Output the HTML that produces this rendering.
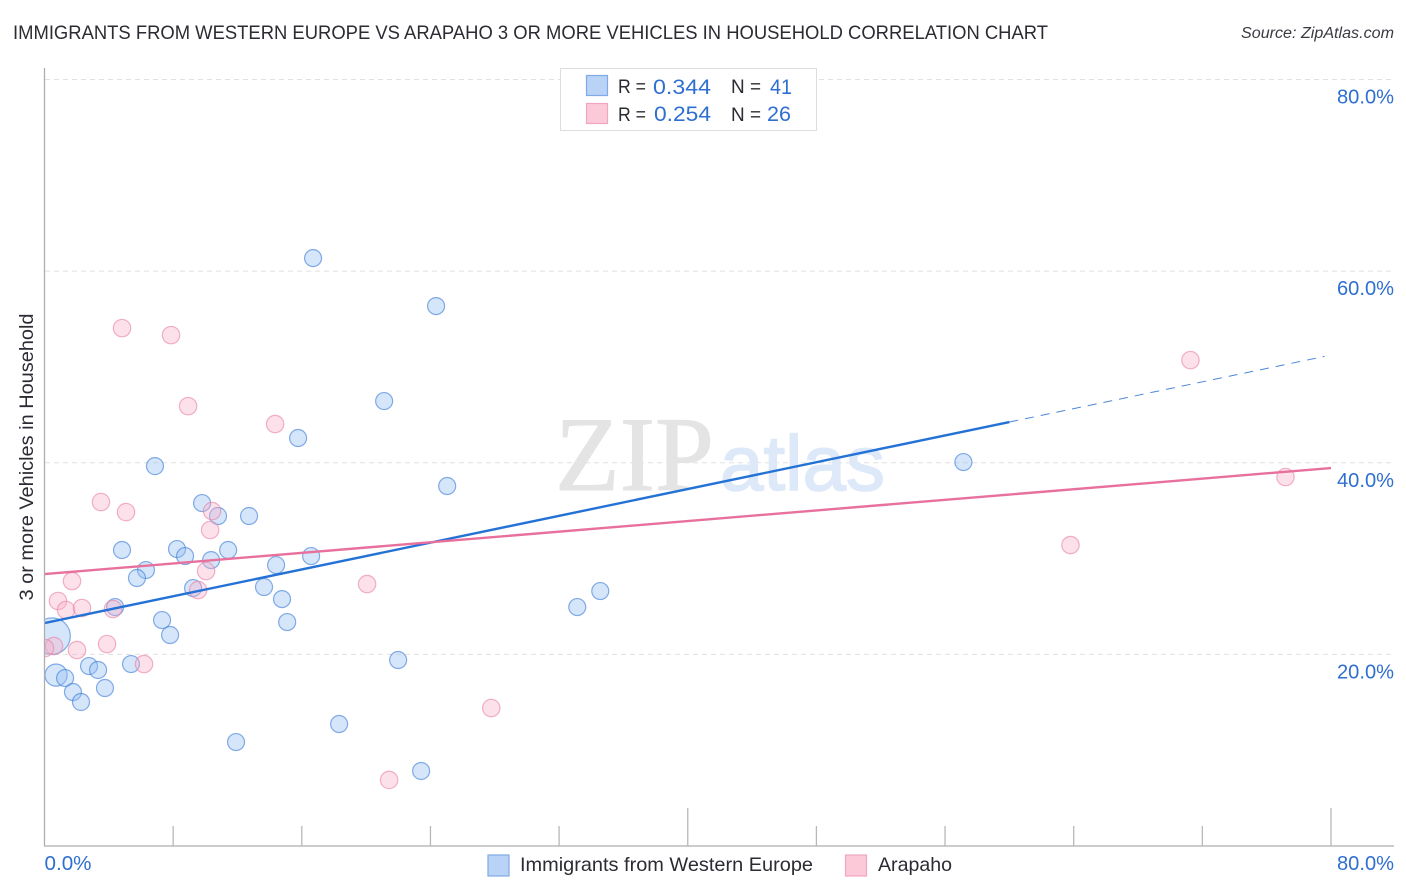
<!DOCTYPE html>
<html lang="en">
<head>
<meta charset="utf-8">
<title>Immigrants from Western Europe vs Arapaho correlation chart</title>
<style>
html,body{margin:0;padding:0;background:#fff;}
#stage{display:block;width:1406px;height:892px;font-family:"Liberation Sans",sans-serif;}
text{font-family:"Liberation Sans",sans-serif;}
</style>
</head>
<body>
<svg id="stage" xmlns="http://www.w3.org/2000/svg" width="1406" height="892" viewBox="0 0 1406 892">
  <defs>
    <clipPath id="plot-clip"><rect x="44.5" y="60" width="1350" height="786"></rect></clipPath>
  </defs>
  <rect width="1406" height="892" fill="#ffffff"></rect>
  <text x="13" y="39" font-size="19.5" fill="#2b2b33" textLength="1035" lengthAdjust="spacingAndGlyphs">IMMIGRANTS FROM WESTERN EUROPE VS ARAPAHO 3 OR MORE VEHICLES IN HOUSEHOLD CORRELATION CHART</text>
  <text x="1241" y="38" font-size="15.5" font-style="italic" fill="#3a3a42" textLength="153" lengthAdjust="spacingAndGlyphs">Source: ZipAtlas.com</text>

  <g id="grid"></g>

  <g>
    <text x="555" y="490" font-size="106" fill="#e4e4e4" stroke="#e4e4e4" stroke-width="1" textLength="159" lengthAdjust="spacingAndGlyphs" style="font-family:'Liberation Serif',serif">ZIP</text>
    <text x="720" y="490" font-size="78" fill="#dde9f9" stroke="#dde9f9" stroke-width="1.5" textLength="165" lengthAdjust="spacingAndGlyphs">atlas</text>
  </g>

  <g id="points" clip-path="url(#plot-clip)"></g>
  <g id="trends" clip-path="url(#plot-clip)"></g>

  <g id="axes">
    <line x1="44.5" y1="68" x2="44.5" y2="846" stroke="#aeaeae" stroke-width="1.3"></line>
    <line x1="44" y1="846" x2="1394" y2="846" stroke="#aeaeae" stroke-width="1.3"></line>
  </g>
  <g id="tick-labels"></g>

  <text transform="translate(33,457) rotate(-90)" text-anchor="middle" font-size="19" fill="#2b2b33" textLength="287" lengthAdjust="spacingAndGlyphs">3 or more Vehicles in Household</text>

  <g>
    <rect x="560.5" y="68.5" width="256" height="62" fill="#ffffff" stroke="#dddddd" stroke-width="1"></rect>
    <rect x="586.5" y="75.5" width="21" height="20" fill="#b9d3f7" stroke="#7faae6" stroke-width="1.2"></rect>
    <rect x="586.5" y="103.5" width="21" height="20" fill="#fcc9d9" stroke="#f0a6bf" stroke-width="1.2"></rect>
    <text x="618" y="93" font-size="19.5" fill="#2b2b33" textLength="28" lengthAdjust="spacingAndGlyphs">R =</text>
    <text x="653" y="94" font-size="21" fill="#2f6fd0" textLength="58" lengthAdjust="spacingAndGlyphs">0.344</text>
    <text x="731" y="93" font-size="19.5" fill="#2b2b33" textLength="30" lengthAdjust="spacingAndGlyphs">N =</text>
    <text x="770" y="94" font-size="21" fill="#2f6fd0" textLength="22" lengthAdjust="spacingAndGlyphs">41</text>
    <text x="618" y="121" font-size="19.5" fill="#2b2b33" textLength="28" lengthAdjust="spacingAndGlyphs">R =</text>
    <text x="654" y="121" font-size="21" fill="#2f6fd0" textLength="57" lengthAdjust="spacingAndGlyphs">0.254</text>
    <text x="731" y="121" font-size="19.5" fill="#2b2b33" textLength="30" lengthAdjust="spacingAndGlyphs">N =</text>
    <text x="767" y="121" font-size="21" fill="#2f6fd0" textLength="24" lengthAdjust="spacingAndGlyphs">26</text>
  </g>

  <g>
    <rect x="488" y="855" width="21" height="21" fill="#b9d3f7" stroke="#7faae6" stroke-width="1.2"></rect>
    <text x="520" y="871" font-size="19.5" fill="#2b2b33" textLength="293" lengthAdjust="spacingAndGlyphs">Immigrants from Western Europe</text>
    <rect x="845.5" y="855" width="21" height="21" fill="#fcc9d9" stroke="#f0a6bf" stroke-width="1.2"></rect>
    <text x="878" y="871" font-size="19.5" fill="#2b2b33" textLength="74" lengthAdjust="spacingAndGlyphs">Arapaho</text>
  </g>
</svg>
<script>
var blueX = [16.70,24.35,21.12,15.77,6.87,25.04,57.14,9.80,10.79,12.72,4.82,8.24,8.74,11.42,10.36,16.58,14.40,6.31,5.75,9.24,13.65,14.77,4.39,7.31,15.09,7.81,0.47,33.13,34.56,21.99,5.38,2.77,3.33,0.72,1.28,3.76,1.77,2.27,18.32,11.91,23.42];
var blueY = [61.36,56.35,46.44,42.58,39.65,37.57,40.07,35.79,34.44,34.44,30.89,30.99,30.26,30.89,29.84,30.26,29.32,28.80,27.97,26.92,27.03,25.77,24.94,23.58,23.37,22.02,21.91,24.94,26.61,19.41,18.99,18.78,18.37,17.84,17.53,16.49,16.07,15.03,12.73,10.85,7.83];
var blueWeight = [1,1,1,1,1,1,1,1,1,1,1,1,1,1,1,1,1,1,1,1,1,1,1,1,1,1,4.6,1,1,1,1,1,1,1.7,1,1,1,1,1,1,1];
var pinkX = [4.82,7.87,8.93,14.34,71.26,77.17,3.51,5.07,10.42,10.30,63.80,20.06,10.05,9.55,1.71,0.84,1.34,2.33,4.26,3.89,2.02,0.59,0.03,6.19,27.78,21.43];
var pinkY = [54.05,53.32,45.91,44.04,50.71,38.51,35.90,34.85,34.96,32.98,31.41,27.34,28.70,26.71,27.65,25.57,24.63,24.84,24.73,21.08,20.45,20.87,20.66,18.99,14.40,6.89];
var blueTrendX = [0,60,79.6];
var blueTrendY = [23.27,44.25,51.1];
var pinkTrendX = [0,80];
var pinkTrendY = [28.38,39.45];
var xTicks = [0,8,16,24,32,40,48,56,64,72,80];
var xMajorTicks = [40,80];
var yTicks = [20,40,60,80];
var yTickLabels = ['20.0%','40.0%','60.0%','80.0%'];
var xTickLabels = ['0.0%','80.0%'];
var xTickLabelValues = [0,80];

var NS = 'http://www.w3.org/2000/svg';
function sx(v){ return 44.5 + v * (1331 - 44.5) / 80; }
function sy(v){ return 846 - v * (846 - 79.5) / 80; }
function make(tag, parent){
  var el = document.createElementNS(NS, tag);
  parent.appendChild(el);
  return el;
}

var grid = document.getElementById('grid');
yTicks.forEach(function(v){
  var el = make('line', grid);
  
  
  el.setAttribute('x1', 45);
  el.setAttribute('x2', 1394);
  el.setAttribute('y1', sy(v));
  el.setAttribute('y2', sy(v));
  el.setAttribute('stroke', '#e0e0e0');
  el.setAttribute('stroke-width', '1');
  el.setAttribute('stroke-dasharray', '5 4');
});

var axes = document.getElementById('axes');
xTicks.slice(1).forEach(function(v){
  var el = make('line', axes);
  
  
  el.setAttribute('x1', sx(v));
  el.setAttribute('x2', sx(v));
  el.setAttribute('y1', xMajorTicks.indexOf(v) >= 0 ? 808 : 826);
  el.setAttribute('y2', 846);
  el.setAttribute('stroke', '#b8b8b8');
  el.setAttribute('stroke-width', '1.3');
});

var labels = document.getElementById('tick-labels');
yTicks.forEach(function(v, i){
  var el = make('text', labels);
  
  
  el.setAttribute('x', 1394);
  el.setAttribute('y', sy(v) + 24);
  el.setAttribute('text-anchor', 'end');
  el.setAttribute('font-size', '20');
  el.setAttribute('fill', '#2f6fd0');
  el.setAttribute('textLength', '57');
  el.setAttribute('lengthAdjust', 'spacingAndGlyphs');
  el.textContent = yTickLabels[i];
});
xTickLabelValues.forEach(function(v, i){
  var el = make('text', labels);
  
  
  el.setAttribute('x', i === 0 ? sx(v) : 1394);
  el.setAttribute('y', 870);
  el.setAttribute('text-anchor', i === 0 ? 'start' : 'end');
  el.setAttribute('font-size', '20');
  el.setAttribute('fill', '#2f6fd0');
  el.setAttribute('textLength', i === 0 ? '47' : '57');
  el.setAttribute('lengthAdjust', 'spacingAndGlyphs');
  el.textContent = xTickLabels[i];
});

var points = document.getElementById('points');
blueX.forEach(function(v, i){
  var el = make('circle', points);
  
  
  el.setAttribute('cx', sx(v));
  el.setAttribute('cy', sy(blueY[i]));
  el.setAttribute('r', 8.5 * Math.sqrt(blueWeight[i]));
  el.setAttribute('fill', 'rgba(147,189,243,0.38)');
  el.setAttribute('stroke', 'rgba(60,125,215,0.62)');
  el.setAttribute('stroke-width', '1.2');
});
pinkX.forEach(function(v, i){
  var el = make('circle', points);
  
  
  el.setAttribute('cx', sx(v));
  el.setAttribute('cy', sy(pinkY[i]));
  el.setAttribute('r', 8.7);
  el.setAttribute('fill', 'rgba(249,176,200,0.38)');
  el.setAttribute('stroke', 'rgba(232,130,165,0.62)');
  el.setAttribute('stroke-width', '1.2');
});

var trends = document.getElementById('trends');
var blueSolid = make('line', trends);


blueSolid.setAttribute('x1', sx(blueTrendX[0]));
blueSolid.setAttribute('y1', sy(blueTrendY[0]));
blueSolid.setAttribute('x2', sx(blueTrendX[1]));
blueSolid.setAttribute('y2', sy(blueTrendY[1]));
blueSolid.setAttribute('stroke', '#2472d6');
blueSolid.setAttribute('stroke-width', '2.4');

var blueDash = make('line', trends);


blueDash.setAttribute('x1', sx(blueTrendX[1]));
blueDash.setAttribute('y1', sy(blueTrendY[1]));
blueDash.setAttribute('x2', sx(blueTrendX[2]));
blueDash.setAttribute('y2', sy(blueTrendY[2]));
blueDash.setAttribute('stroke', '#4d87d8');
blueDash.setAttribute('stroke-width', '1');
blueDash.setAttribute('stroke-dasharray', '9 7');

var pinkLine = make('line', trends);


pinkLine.setAttribute('x1', sx(pinkTrendX[0]));
pinkLine.setAttribute('y1', sy(pinkTrendY[0]));
pinkLine.setAttribute('x2', sx(pinkTrendX[1]));
pinkLine.setAttribute('y2', sy(pinkTrendY[1]));
pinkLine.setAttribute('stroke', '#e8709c');
pinkLine.setAttribute('stroke-width', '2.4');
</script>
</body>
</html>
